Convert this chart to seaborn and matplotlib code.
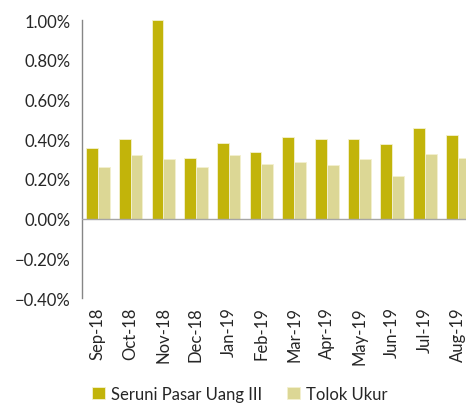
import pandas as pd
import numpy as np
import matplotlib
matplotlib.use('Agg')
import matplotlib.pyplot as plt
import seaborn as sns
from matplotlib.ticker import PercentFormatter

# Data (monthly returns, %)
months = ['Sep-18', 'Oct-18', 'Nov-18', 'Dec-18', 'Jan-19', 'Feb-19',
          'Mar-19', 'Apr-19', 'May-19', 'Jun-19', 'Jul-19', 'Aug-19']
seruni = [0.355, 0.399, 1.00, 0.305, 0.382, 0.335, 0.409, 0.399, 0.399, 0.375, 0.454, 0.421]
tolok = [0.261, 0.321, 0.298, 0.258, 0.318, 0.276, 0.286, 0.271, 0.300, 0.214, 0.327, 0.305]
series = ['Seruni Pasar Uang III', 'Tolok Ukur']
colors = ['#C2B40A', '#DCD795']

df = pd.DataFrame({
    'month': months * 2,
    'value': seruni + tolok,
    'series': [series[0]] * len(months) + [series[1]] * len(months),
})

sns.set_style('white')
plt.rcParams['font.family'] = ['Lato', 'DejaVu Sans']

fig = plt.figure(figsize=(4.66, 4.06), dpi=100)
ax = fig.add_axes([0.175, 0.2635, 0.842, 0.6847])

sns.barplot(data=df, x='month', y='value', hue='series', palette=colors,
            saturation=1, width=0.72, edgecolor='#F4F1D0', linewidth=0.6, ax=ax)

ax.set_ylim(-0.4, 1.0)
ax.set_yticks(np.arange(-0.4, 1.01, 0.2))
ax.yaxis.set_major_formatter(PercentFormatter(decimals=2))
ax.set_xlim(-0.5, 11.5)
ax.set_xlabel('')
ax.set_ylabel('')
ax.tick_params(axis='x', rotation=90, length=0, labelsize=12, pad=6)
ax.tick_params(axis='y', length=0, labelsize=12, pad=8)
for lab in ax.get_xticklabels():
    lab.set_verticalalignment('top')

for s in ['top', 'right', 'bottom']:
    ax.spines[s].set_visible(False)
ax.spines['left'].set_color('#868686')
ax.spines['left'].set_linewidth(1)
ax.axhline(0, color='#A6A6A6', linewidth=1, zorder=3)

handles, labels = ax.get_legend_handles_labels()
ax.get_legend().remove()
fig.legend(handles, labels, loc='center', bbox_to_anchor=(0.515, 0.027),
           ncol=2, frameon=False, fontsize=12, handlelength=0.75,
           handleheight=0.75, handletextpad=0.4, columnspacing=1.5)

fig.savefig('out.png', dpi=100)
